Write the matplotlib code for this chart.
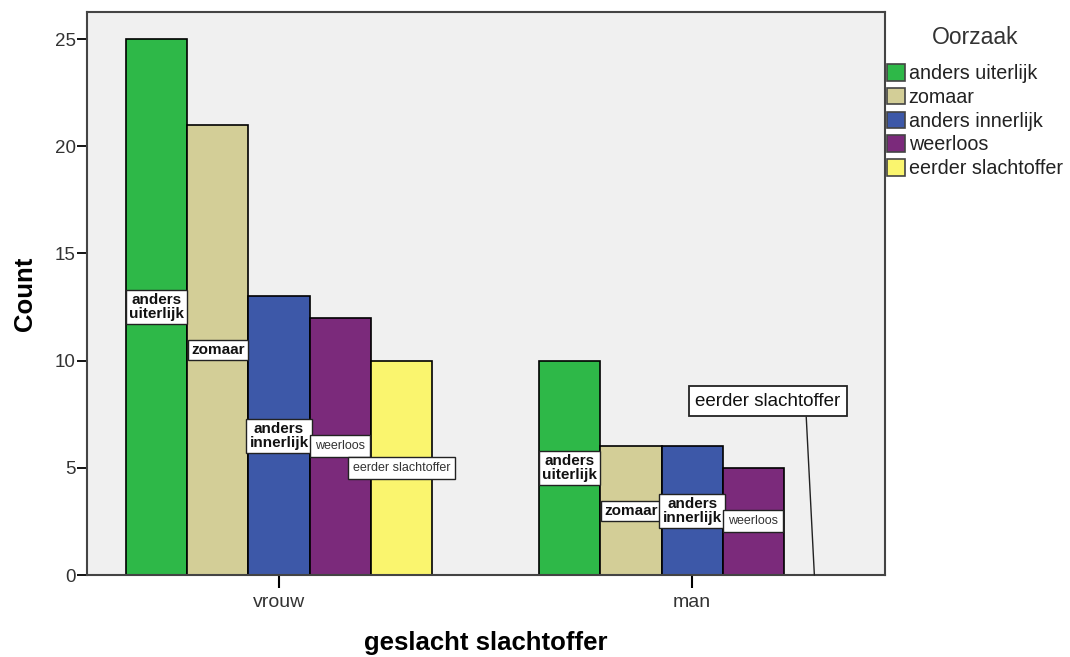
import matplotlib.pyplot as plt
from matplotlib.patches import Patch

plt.rcParams["font.family"] = ["Liberation Sans", "DejaVu Sans"]

groups = ["vrouw", "man"]
causes = ["anders uiterlijk", "zomaar", "anders innerlijk", "weerloos", "eerder slachtoffer"]
counts_vrouw = [25, 21, 13, 12, 10]
counts_man = [10, 6, 6, 5, 0]
colors = ["#2EB848", "#D3CE97", "#3D58A8", "#7B2A7B", "#FAF56E"]

counts = [counts_vrouw, counts_man]
bar_w = 0.148

fig = plt.figure(figsize=(10.7, 6.57), dpi=100)
ax = fig.add_axes([0.0813, 0.1248, 0.7458, 0.8569])
ax.set_facecolor("#F0F0F0")

for gi, values in enumerate(counts):
    for ci, (cause, val) in enumerate(zip(causes, values)):
        x = gi + (ci - 2) * bar_w
        ax.bar(x, val, width=bar_w, color=colors[ci], edgecolor="black", linewidth=1.2, zorder=2)
        label = cause.replace(" ", "\n") if cause.startswith("anders") else cause
        small = cause in ("weerloos", "eerder slachtoffer")
        if val == 0:
            box = dict(boxstyle="square,pad=0.35", facecolor="white", edgecolor="#222222", linewidth=1.3)
            ax.annotate(label, xy=(x, 0), xytext=(1.184, 8.1), ha="center", va="center",
                        fontsize=13.5, color="#111111", bbox=box, zorder=4,
                        arrowprops=dict(arrowstyle="-", color="#222222", linewidth=1.0,
                                        shrinkA=0, shrinkB=0, relpos=(0.76, 0)))
        elif small:
            box = dict(boxstyle="square,pad=0.4", facecolor="white", edgecolor="#222222", linewidth=1.0)
            ax.text(x, val / 2, label, ha="center", va="center", fontsize=9, color="#333333",
                    bbox=box, zorder=4)
        else:
            box = dict(boxstyle="square,pad=0.2", facecolor="white", edgecolor="#222222", linewidth=1.0)
            ax.text(x, val / 2, label, ha="center", va="center", fontsize=11,
                    fontweight="bold", color="#111111", linespacing=1.0, bbox=box, zorder=4)

ax.set_xlim(-0.465, 1.467)
ax.set_ylim(0, 26.26)
ax.set_xticks(range(len(groups)))
ax.set_xticklabels(groups, fontsize=14, color="#333333")
ax.set_yticks([0, 5, 10, 15, 20, 25])
ax.tick_params(axis="y", labelsize=13.5, labelcolor="#333333", length=7, width=1.3, pad=1)
ax.tick_params(axis="x", length=9, width=1.5, pad=5)
for spine in ax.spines.values():
    spine.set_color("#444444")
    spine.set_linewidth(1.5)

ax.set_ylabel("Count", fontsize=18.5, fontweight="bold", labelpad=13)
ax.set_xlabel("geslacht slachtoffer", fontsize=18.5, fontweight="bold", labelpad=14)

handles = [Patch(facecolor=c, edgecolor="#444444", linewidth=1.2) for c in colors]
leg = fig.legend(handles, causes, loc="upper left", bbox_to_anchor=(887 / 1070, 1 - 26 / 657),
                 frameon=False, fontsize=14.2, title="Oorzaak", title_fontsize=16.5,
                 handlelength=0.9, handleheight=0.9, handletextpad=0.2, labelspacing=0.24,
                 borderpad=0, borderaxespad=0)
leg._legend_box.sep = 11
leg.get_title().set_color("#333333")
for t in leg.get_texts():
    t.set_color("#222222")

fig.savefig("out.png", dpi=100)
